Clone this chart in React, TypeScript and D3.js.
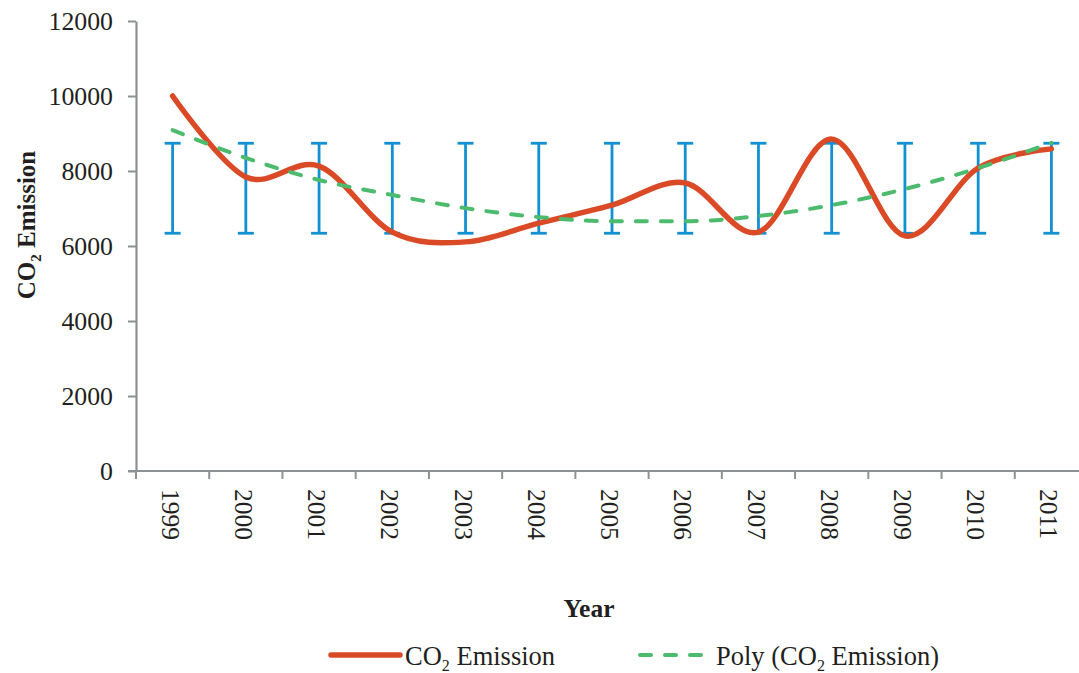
import React, { useEffect, useRef } from 'react';
import * as d3 from 'd3';

const years = ['1999', '2000', '2001', '2002', '2003', '2004', '2005', '2006', '2007', '2008', '2009', '2010', '2011'];
const emission = [10000, 7840, 8130, 6370, 6110, 6610, 7090, 7680, 6370, 8850, 6270, 8080, 8590];
const polyTrend = [9090, 8350, 7760, 7360, 7010, 6770, 6660, 6660, 6800, 7090, 7520, 8080, 8750];
const errLow = [6340, 6340, 6340, 6340, 6340, 6340, 6340, 6340, 6340, 6340, 6340, 6340, 6340];
const errHigh = [8740, 8740, 8740, 8740, 8740, 8740, 8740, 8740, 8740, 8740, 8740, 8740, 8740];
const yTicks = [0, 2000, 4000, 6000, 8000, 10000, 12000];

const W = 1079;
const H = 673;
const FONT = '"Liberation Serif", "Times New Roman", serif';

const App = () => {
  const ref = useRef<SVGSVGElement>(null);

  useEffect(() => {
    document.body.style.margin = '0';
    const svg = d3.select(ref.current);
    svg.selectAll('*').remove();

    const left = 136, right = 1088, top = 21, bottom = 471;

    const x = d3.scaleBand().domain(years).range([left, right]).padding(0);
    const cx = (d: string) => (x(d) as number) + x.bandwidth() / 2;
    const y = d3.scaleLinear().domain([0, 12000]).range([bottom, top]);

    const axisColor = '#8e9194';

    // y axis
    const yAxis = svg.append('g').attr('transform', `translate(${left},0)`)
      .call(d3.axisLeft(y).tickValues(yTicks).tickSize(8).tickSizeOuter(0).tickFormat(d3.format('d')));
    yAxis.select('.domain').attr('stroke', axisColor).attr('stroke-width', 2.2);
    yAxis.selectAll('.tick line').attr('stroke', axisColor).attr('stroke-width', 2);
    yAxis.selectAll('.tick text')
      .attr('x', -23)
      .attr('font-family', FONT)
      .attr('font-size', 25.8)
      .attr('fill', '#231f20');

    // x axis
    const xAxis = svg.append('g').attr('transform', `translate(0,${bottom})`);
    xAxis.append('line')
      .attr('x1', left - 8).attr('x2', right)
      .attr('stroke', axisColor).attr('stroke-width', 2.2);
    xAxis.selectAll('line.tk')
      .data(years.concat(['end']))
      .join('line')
      .attr('class', 'tk')
      .attr('x1', (d, i) => left + i * x.bandwidth())
      .attr('x2', (d, i) => left + i * x.bandwidth())
      .attr('y1', 0).attr('y2', 8)
      .attr('stroke', axisColor).attr('stroke-width', 2);
    xAxis.selectAll('text')
      .data(years)
      .join('text')
      .attr('transform', d => `translate(${cx(d) - 2},18) rotate(90)`)
      .attr('dy', '0.35em')
      .attr('font-family', FONT)
      .attr('font-size', 25.5)
      .attr('fill', '#231f20')
      .text(d => d);

    // error bars
    const eb = svg.append('g').attr('stroke', '#1190d2').attr('stroke-width', 2.8).attr('fill', 'none');
    years.forEach((yr, i) => {
      const px = cx(yr);
      eb.append('line').attr('x1', px).attr('x2', px).attr('y1', y(errLow[i])).attr('y2', y(errHigh[i]));
      eb.append('line').attr('x1', px - 8).attr('x2', px + 8).attr('y1', y(errLow[i])).attr('y2', y(errLow[i]));
      eb.append('line').attr('x1', px - 8).attr('x2', px + 8).attr('y1', y(errHigh[i])).attr('y2', y(errHigh[i]));
    });

    // emission line
    const line = d3.line<number>()
      .x((d, i) => cx(years[i]))
      .y(d => y(d))
      .curve(d3.curveCardinal.tension(0));

    svg.append('path')
      .attr('d', line(emission))
      .attr('fill', 'none')
      .attr('stroke', '#da4a26')
      .attr('stroke-width', 5.5)
      .attr('stroke-linecap', 'round');

    // polynomial trend
    const trend = d3.line<number>()
      .x((d, i) => cx(years[i]))
      .y(d => y(d))
      .curve(d3.curveMonotoneX);

    svg.append('path')
      .attr('d', trend(polyTrend))
      .attr('fill', 'none')
      .attr('stroke', '#4dbb6d')
      .attr('stroke-width', 4)
      .attr('stroke-dasharray', '11,14')
      .attr('stroke-linecap', 'round');

    // axis titles
    const yt = svg.append('text')
      .attr('transform', 'translate(35,225) rotate(-90)')
      .attr('text-anchor', 'middle')
      .attr('font-family', FONT)
      .attr('font-size', 25)
      .attr('font-weight', 'bold')
      .attr('fill', '#231f20');
    yt.append('tspan').text('CO');
    yt.append('tspan').attr('font-size', 15).attr('dy', 6).text('2');
    yt.append('tspan').attr('dy', -6).text(' Emission');

    svg.append('text')
      .attr('x', 589).attr('y', 617)
      .attr('text-anchor', 'middle')
      .attr('font-family', FONT)
      .attr('font-size', 25.5)
      .attr('font-weight', 'bold')
      .attr('fill', '#231f20')
      .text('Year');

    // legend
    const lg = svg.append('g').attr('font-family', FONT).attr('font-size', 26.5).attr('fill', '#231f20');
    lg.append('line').attr('x1', 331).attr('x2', 400).attr('y1', 655).attr('y2', 655)
      .attr('stroke', '#da4a26').attr('stroke-width', 5.5).attr('stroke-linecap', 'round');
    const t1 = lg.append('text').attr('x', 405).attr('y', 665);
    t1.append('tspan').text('CO');
    t1.append('tspan').attr('font-size', 16).attr('dy', 6).text('2');
    t1.append('tspan').attr('dy', -6).text(' Emission');

    lg.append('line').attr('x1', 640).attr('x2', 712).attr('y1', 655).attr('y2', 655)
      .attr('stroke', '#4dbb6d').attr('stroke-width', 4).attr('stroke-dasharray', '11,14')
      .attr('stroke-linecap', 'round');
    const t2 = lg.append('text').attr('x', 716).attr('y', 665);
    t2.append('tspan').text('Poly (CO');
    t2.append('tspan').attr('font-size', 16).attr('dy', 6).text('2');
    t2.append('tspan').attr('dy', -6).text(' Emission)');
  }, []);

  return (
    <svg ref={ref} width={W} height={H} style={{ display: 'block', background: '#fff' }} />
  );
};

export default App;
